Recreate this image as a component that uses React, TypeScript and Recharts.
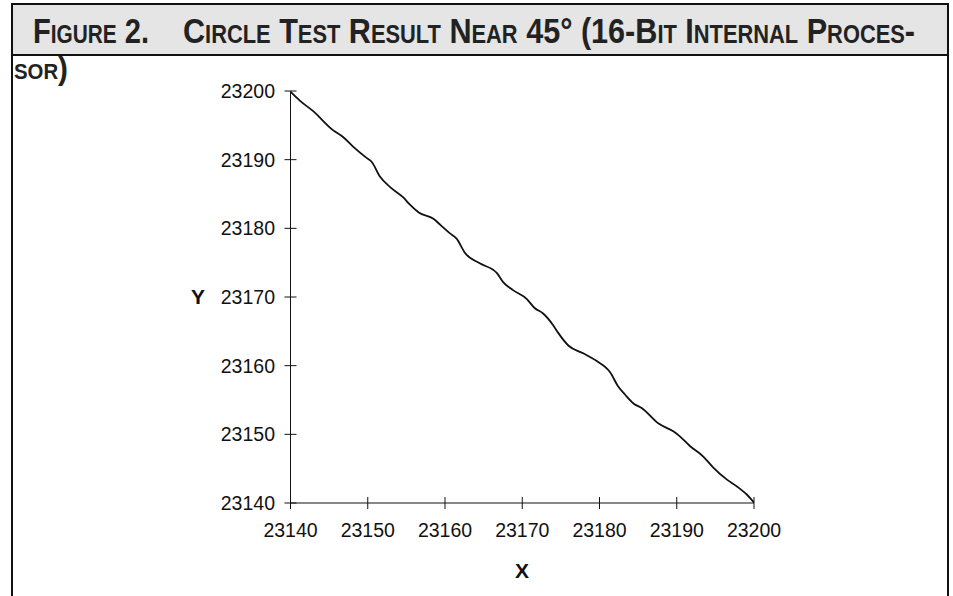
import { LineChart, Line, XAxis, YAxis } from 'recharts';

// traced points of the circle test path (x, y)
const xValues = [
  23139.0, 23139.9, 23141.2, 23142.9, 23145.5, 23146.8, 23148.1, 23149.8, 23150.5, 23151.6,
  23152.9, 23154.6, 23155.5, 23156.6, 23158.5, 23159.4, 23160.6, 23161.5, 23162.6, 23164.5,
  23166.7, 23167.5, 23168.8, 23170.6, 23171.6, 23172.7, 23174.0, 23174.7, 23176.0, 23177.9,
  23179.6, 23181.4, 23182.4, 23183.3, 23184.4, 23185.5, 23187.6, 23189.6, 23190.4, 23191.7,
  23193.4, 23194.7, 23196.5, 23197.8, 23199.1, 23200.0, 23201.0,
];
const yValues = [
  23201.0, 23200.0, 23198.6, 23197.1, 23194.3, 23193.3, 23191.9, 23190.3, 23189.7, 23187.5,
  23186.0, 23184.5, 23183.4, 23182.3, 23181.4, 23180.5, 23179.3, 23178.5, 23176.4, 23174.9,
  23173.5, 23172.2, 23171.0, 23169.7, 23168.4, 23167.6, 23165.9, 23164.7, 23162.9, 23161.8,
  23160.7, 23159.0, 23157.0, 23155.8, 23154.5, 23153.8, 23151.6, 23150.4, 23149.7, 23148.3,
  23146.8, 23145.2, 23143.4, 23142.4, 23141.2, 23140.1, 23138.9,
];
const axisTicks = [23140, 23150, 23160, 23170, 23180, 23190, 23200];

const data = xValues.map((x, i) => ({ x, y: yValues[i] }));

const font = 'Liberation Sans, Arial, sans-serif';
const ink = '#111';

function YTick(props: any) {
  const { x, y, payload } = props;
  const ax = x + 15.5;
  return (
    <g>
      <line x1={ax - 6} x2={ax + 6} y1={y} y2={y} stroke={ink} strokeWidth={1} />
      <text x={x} y={y} dy="0.355em" textAnchor="end" fontFamily={font} fontSize={19.5} fill={ink}>
        {payload.value}
      </text>
    </g>
  );
}

function XTick(props: any) {
  const { x, y, payload } = props;
  const ay = y - 20;
  return (
    <g>
      <line x1={x} x2={x} y1={ay - 6} y2={ay + 6} stroke={ink} strokeWidth={1} />
      <text x={x} y={y} dy="0.71em" textAnchor="middle" fontFamily={font} fontSize={19.5} fill={ink}>
        {payload.value}
      </text>
    </g>
  );
}

export default function App() {
  return (
    <div style={{ position: 'absolute', left: 0, top: 0, width: 953, height: 596, background: '#fff', overflow: 'hidden' }}>
      <style>{`body{margin:0} .recharts-line{clip-path:none !important}`}</style>

      {/* title box and frame */}
      <div style={{ position: 'absolute', left: 11, top: 3, width: 938, height: 53, boxSizing: 'border-box', border: `2.5px solid ${ink}`, background: '#e5e5e5' }} />
      <div style={{ position: 'absolute', left: 11, top: 55, width: 938, height: 560, boxSizing: 'border-box', borderLeft: `2.5px solid ${ink}`, borderRight: `2.5px solid ${ink}` }} />
      <svg width={953} height={90} style={{ position: 'absolute', left: 0, top: 0 }}>
        <g fontFamily={font} fontWeight="bold" fontSize={35} fill="#222" style={{ fontVariant: 'small-caps' }}>
          <text x={33} y={43} textLength={116} lengthAdjust="spacingAndGlyphs">Figure 2.</text>
          <text x={183} y={43} textLength={732} lengthAdjust="spacingAndGlyphs">
            Circle Test Result Near 45° (16-Bit Internal Proces-
          </text>
        </g>
        <text x={14} y={79} textLength={54} lengthAdjust="spacingAndGlyphs" fontFamily={font} fontWeight="bold" fontSize={32} fill="#222" style={{ fontVariant: 'small-caps' }}>
          sor)
        </text>
      </svg>

      <div style={{ position: 'absolute', left: 0, top: 0 }}>
        <LineChart width={953} height={596} data={data} margin={{ top: 91, right: 199, bottom: 0, left: 0 }}>
          <XAxis
            dataKey="x"
            type="number"
            domain={[23140, 23200]}
            ticks={axisTicks}
            allowDataOverflow
            height={93}
            tickSize={0}
            tickMargin={20}
            tick={<XTick />}
            axisLine={{ stroke: ink, strokeWidth: 1 }}
            tickLine={false}
          />
          <YAxis
            dataKey="y"
            type="number"
            domain={[23140, 23200]}
            ticks={axisTicks}
            allowDataOverflow
            width={290.5}
            tickSize={0}
            tickMargin={15.5}
            tick={<YTick />}
            axisLine={{ stroke: ink, strokeWidth: 1 }}
            tickLine={false}
          />
          <Line
            dataKey="y"
            type="monotone"
            stroke={ink}
            strokeWidth={1.8}
            dot={false}
            isAnimationActive={false}
          />
        </LineChart>
      </div>

      <div style={{ position: 'absolute', left: 188, top: 285, width: 20, textAlign: 'center', fontFamily: font, fontWeight: 'bold', fontSize: 21, lineHeight: '24px', color: ink }}>Y</div>
      <div style={{ position: 'absolute', left: 512, top: 559, width: 20, textAlign: 'center', fontFamily: font, fontWeight: 'bold', fontSize: 21, lineHeight: '24px', color: ink }}>X</div>
    </div>
  );
}
